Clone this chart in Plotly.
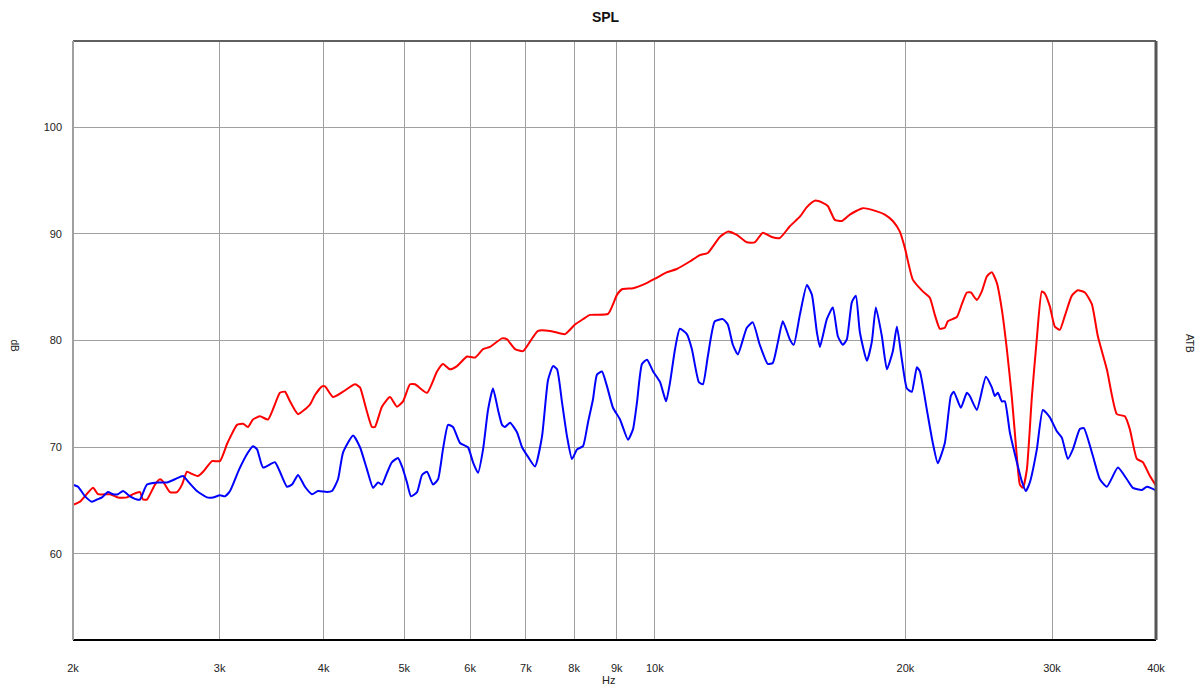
import plotly.graph_objects as go
import numpy as np

# ---- data ----
red_freq = [2000, 2039, 2114, 2143, 2216, 2265, 2322, 2361, 2407, 2427, 2454, 2509, 2544, 2565, 2615, 2667,
            2704, 2741, 2780, 2826, 2866, 2938, 3003, 3062, 3088, 3148, 3201, 3245, 3290, 3355, 3430, 3545,
            3595, 3645, 3727, 3852, 3906, 3983, 4016, 4106, 4221, 4364, 4424, 4461, 4511, 4573, 4611, 4701,
            4806, 4900, 4983, 5080, 5151, 5325, 5474, 5565, 5675, 5786, 5948, 6082, 6218, 6339, 6553, 6645,
            6793, 6945, 7081, 7239, 7483, 7587, 7800, 8019, 8198, 8358, 8787, 9008, 9133, 9415, 9787, 10062,
            10344, 10626, 11016, 11325, 11578, 11969, 12236, 12545, 12897, 13185, 13480, 13820, 14130, 14527,
            14935, 15227, 15568, 15916, 16137, 16453, 16775, 17150, 17778, 18479, 18893, 19316, 19693, 19967,
            20414, 20986, 21397, 21695, 21998, 22304, 22490, 23057, 23378, 23703, 23967, 24368, 24707, 25052,
            25401, 25754, 26114, 26477, 26845, 27221, 27448, 27676, 27983, 28374, 28769, 29169, 29412, 29821,
            30237, 30658, 31084, 31693, 32224, 32855, 33496, 34057, 34915, 35896, 36698, 37208, 37939, 38574,
            39334, 40000]
red_db = [64.6, 64.9, 66.2, 65.6, 65.6, 65.3, 65.3, 65.6, 65.8, 65.1, 65.1, 66.5, 67.0, 66.8, 65.8, 65.8,
          66.5, 67.7, 67.5, 67.3, 67.7, 68.7, 68.7, 70.3, 70.9, 72.1, 72.2, 71.9, 72.6, 72.9, 72.6, 75.1,
          75.2, 74.3, 73.1, 74.0, 74.9, 75.7, 75.7, 74.7, 75.2, 75.9, 75.6, 74.7, 73.3, 71.9, 71.9, 73.8,
          74.7, 73.8, 74.3, 75.9, 75.9, 75.1, 77.1, 77.8, 77.3, 77.6, 78.5, 78.4, 79.2, 79.4, 80.2, 80.1,
          79.2, 79.0, 79.9, 80.9, 80.9, 80.8, 80.6, 81.5, 82.0, 82.4, 82.5, 84.3, 84.8, 84.9, 85.4, 85.9,
          86.4, 86.7, 87.4, 88.0, 88.2, 89.7, 90.2, 89.9, 89.2, 89.2, 90.1, 89.7, 89.6, 90.7,
          91.6, 92.5, 93.1, 92.9, 92.6, 91.3, 91.2, 91.8, 92.4, 92.1, 91.8, 91.2, 90.2, 88.7,
          85.7, 84.6, 84.0, 82.4, 81.1, 81.2, 81.8, 82.2, 83.4, 84.5, 84.5, 83.8, 84.6, 86.0,
          86.4, 85.4, 82.9, 79.2, 74.7, 69.1, 66.5, 66.2, 67.9, 74.7, 80.2, 84.6, 84.4, 83.2,
          81.3, 81.0, 82.3, 84.2, 84.7, 84.5, 83.4, 80.4, 77.3, 73.1, 72.9, 71.7, 68.9, 68.6,
          67.3, 66.4]

blue_freq = [2000, 2028, 2068, 2108, 2137, 2167, 2203, 2234, 2265, 2297, 2342, 2387, 2407, 2454, 2523, 2594,
             2652, 2711, 2749, 2818, 2898, 2946, 3003, 3045, 3088, 3166, 3245, 3290, 3328, 3383, 3496, 3545,
             3615, 3666, 3727, 3799, 3874, 3939, 4038, 4094, 4163, 4221, 4340, 4424, 4511, 4586, 4650, 4701,
             4767, 4833, 4914, 4969, 5038, 5094, 5180, 5252, 5325, 5414, 5490, 5565, 5644, 5722, 5834, 5964,
             6047, 6132, 6218, 6304, 6391, 6481, 6553, 6607, 6700, 6830, 6926, 7042, 7179, 7319, 7442, 7546,
             7630, 7736, 7844, 7952, 8064, 8198, 8311, 8428, 8521, 8640, 8761, 8907, 9082, 9285, 9415, 9518,
             9650, 9787, 9952, 10146, 10316, 10431, 10575, 10716, 10926, 11078, 11295, 11421, 11578, 11805,
             12069, 12236, 12409, 12581, 12897, 13112, 13368, 13668, 13858, 14051, 14247, 14527, 14687, 14935,
             15227, 15440, 15654, 15787, 16093, 16362, 16590, 16822, 17008, 17246, 17437, 17631, 17977, 18227,
             18430, 18739, 19001, 19316, 19534, 19806, 20082, 20358, 20643, 20817, 21223, 21573, 21874, 22304,
             22677, 22866, 23314, 23703, 23900, 24368, 24983, 25401, 25613, 25826, 26114, 26331, 26697, 27221,
             27599, 27907, 28216, 28769, 29251, 29821, 30403, 30826, 31343, 31781, 32402, 32763, 33589, 34244,
             34915, 35997, 36904, 37522, 38468, 39003, 39884, 40000]
blue_db = [66.5, 66.3, 65.4, 64.9, 65.1, 65.3, 65.8, 65.6, 65.6, 65.9, 65.4, 65.1, 65.1, 66.5, 66.7, 66.7,
           67.0, 67.3, 66.8, 65.9, 65.3, 65.3, 65.5, 65.4, 65.9, 67.9, 69.5, 70.1, 69.8, 68.1, 68.6, 67.7,
           66.3, 66.5, 67.4, 66.3, 65.6, 65.9, 65.8, 65.9, 67.0, 69.5, 71.1, 70.0, 67.9, 66.2, 66.7, 66.5,
           67.6, 68.6, 69.0, 68.2, 66.7, 65.4, 65.8, 67.4, 67.7, 66.5, 67.0, 69.8, 72.1, 71.9, 70.4, 70.0,
           68.6, 67.6, 69.8, 73.5, 75.5, 73.5, 72.1, 71.9, 72.3, 71.4, 70.0, 69.1, 68.2, 71.0, 76.3, 77.6,
           77.3, 74.2, 71.0, 68.9, 69.8, 70.1, 72.3, 74.5, 76.8, 77.1, 75.7, 73.7, 72.6, 70.7, 71.7, 74.2,
           77.8, 78.2, 77.1, 76.1, 74.3, 76.1, 79.2, 81.1, 80.6, 79.2, 76.1, 75.9, 78.5, 81.8,
           82.0, 81.5, 79.6, 78.7, 81.2, 81.7, 79.6, 77.8, 77.9, 79.8, 81.8, 80.1, 79.6, 82.4,
           85.2, 84.3, 80.8, 79.4, 82.0, 83.1, 80.4, 79.6, 80.1, 83.6, 84.2, 80.8, 78.1, 79.9,
           83.1, 80.4, 77.3, 79.0, 81.3, 78.2, 75.5, 75.2, 77.5, 77.1, 73.5, 70.4, 68.5, 70.4,
           74.8, 75.2, 73.7, 75.1, 74.8, 73.5, 76.6, 75.6, 74.8, 75.1, 74.3, 74.3, 71.4, 68.6,
           66.8, 65.9, 66.7, 69.8, 73.5, 72.8, 71.5, 70.9, 68.9, 69.8, 71.7, 71.8, 69.2, 67.0,
           66.3, 68.1, 67.0, 66.2, 66.0, 66.3, 66.0, 65.9]

x_tickvals = [2000, 3000, 4000, 5000, 6000, 7000, 8000, 9000, 10000, 20000, 30000, 40000]
x_ticktext = ["2k", "3k", "4k", "5k", "6k", "7k", "8k", "9k", "10k", "20k", "30k", "40k"]
y_tickvals = [60, 70, 80, 90, 100]
y_range = [51.94, 108.06]

FONT = "Liberation Sans, Arial, sans-serif"

fig = go.Figure()
fig.add_trace(go.Scatter(x=red_freq, y=red_db, mode="lines",
                         line=dict(color="#ff0000", width=2, shape="spline", smoothing=0.5),
                         showlegend=False))
fig.add_trace(go.Scatter(x=blue_freq, y=blue_db, mode="lines",
                         line=dict(color="#0000ff", width=2, shape="spline", smoothing=0.5),
                         showlegend=False))

fig.update_layout(
    width=1195, height=680,
    margin=dict(l=65, r=47, t=33, b=48),
    paper_bgcolor="white", plot_bgcolor="white",
    font=dict(family=FONT, size=11, color="#222"),
    title=dict(text="<b>SPL</b>", x=0.5, xanchor="center", y=0.986, yanchor="middle",
               font=dict(family=FONT, size=14, color="#111")),
    xaxis=dict(type="log", range=[np.log10(2000), np.log10(40000)],
               tickvals=x_tickvals, ticktext=x_ticktext,
               showgrid=True, gridcolor="#a0a0a0", gridwidth=1,
               zeroline=False, showline=False, ticks="", ticklabelstandoff=20,
               tickfont=dict(family=FONT, size=11, color="#222")),
    yaxis=dict(range=y_range, tickvals=y_tickvals,
               showgrid=True, gridcolor="#a0a0a0", gridwidth=1,
               zeroline=False, showline=False, ticks="", ticklabelstandoff=10,
               tickfont=dict(family=FONT, size=11, color="#222")),
)

# frame
fig.add_shape(type="line", xref="paper", yref="paper", x0=0, x1=1, y0=1, y1=1,
              line=dict(color="#606060", width=2))
fig.add_shape(type="line", xref="paper", yref="paper", x0=0, x1=1, y0=0, y1=0,
              line=dict(color="#000000", width=2))
fig.add_shape(type="line", xref="paper", yref="paper", x0=0, x1=0, y0=0, y1=1,
              line=dict(color="#a0a0a0", width=2))
fig.add_shape(type="line", xref="paper", yref="paper", x0=1, x1=1, y0=0, y1=1,
              line=dict(color="#555555", width=3))

fig.add_annotation(text="Hz", xref="paper", yref="paper", x=0.494, y=-0.066,
                   showarrow=False, xanchor="center", yanchor="middle",
                   font=dict(family=FONT, size=11, color="#222"))
fig.add_annotation(text="dB", xref="paper", yref="paper", x=-0.0536, y=0.49,
                   showarrow=False, xanchor="center", yanchor="middle", textangle=90,
                   font=dict(family=FONT, size=10, color="#222"))
fig.add_annotation(text="ATB", xref="paper", yref="paper", x=1.031, y=0.495,
                   showarrow=False, xanchor="center", yanchor="middle", textangle=90,
                   font=dict(family=FONT, size=10, color="#222"))

fig.write_html("out.html")
